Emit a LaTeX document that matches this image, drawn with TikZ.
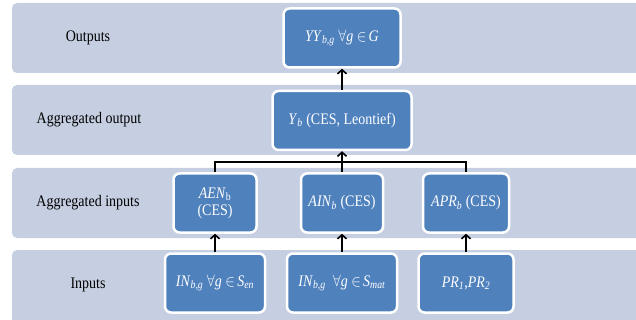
\documentclass[tikz,border=0pt]{standalone}
\usepackage{fontspec}
\setmainfont{Liberation Serif}
\usetikzlibrary{arrows.meta}
\definecolor{bandgray}{RGB}{197,207,225}
\definecolor{boxblue}{RGB}{79,129,189}
\newcommand{\lowidx}[1]{\textsubscript{#1}}
\newcommand{\tall}[1]{\scalebox{1}[1.15]{#1}}
\tikzset{
  band/.style={fill=bandgray, rounded corners=5pt},
  bluebox/.style={draw=white, line width=2.5pt, fill=boxblue, rounded corners=6pt,
    text=white, align=center, minimum height=59pt, inner sep=2pt,
    font=\fontsize{14}{17}\selectfont},
  bandlabel/.style={font=\fontsize{14}{16}\selectfont},
  link/.style={line width=1.6pt},
  up/.style={link, -{Straight Barb[length=4pt,width=9pt,line width=1.6pt]}}
}
\begin{document}
\begin{tikzpicture}[x=1pt,y=-1pt]
    \useasboundingbox (0,0) rectangle (636,320);
    % backdrop bands
    \fill[band] (12,3) rectangle (645,73);
    \fill[band] (12,85) rectangle (645,155);
    \fill[band] (12,168) rectangle (645,238);
    \fill[band] (12,250) rectangle (645,325);
    % band labels
    \node[bandlabel] (lout) at (88,38) {\tall{Outputs}};
    \node[bandlabel] (laggout) at (89,120) {\tall{Aggregated output}};
    \node[bandlabel] (lagginp) at (88,203) {\tall{Aggregated inputs}};
    \node[bandlabel] (linp) at (88,285) {\tall{Inputs}};
    % boxes
    \node[bluebox, minimum width=117pt] (yy) at (342,38)
      {\tall{\textit{YY}\lowidx{\textit{b,g}} $\forall$\textit{g} $\in$\,\textit{G}}};
    \node[bluebox, minimum width=139pt] (yb) at (342,120.5)
      {\tall{\textit{Y}\lowidx{\textit{b}} (CES, Leontief)}};
    \node[bluebox, minimum width=83pt] (aen) at (215,203)
      {\tall{\textit{AEN}\lowidx{b}}\\\tall{(CES)}};
    \node[bluebox, minimum width=82pt] (ain) at (342,203)
      {\tall{\textit{AIN}\lowidx{\textit{b}} (CES)}};
    \node[bluebox, minimum width=86pt] (apr) at (466,203)
      {\tall{\textit{APR}\lowidx{\textit{b}} (CES)}};
    \node[bluebox, minimum width=100pt] (inen) at (215,283)
      {\tall{\textit{IN}\lowidx{\textit{b,g}} $\forall$\textit{g} $\in$\,\textit{S}\lowidx{\textit{en}}}};
    \node[bluebox, minimum width=110pt] (inmat) at (342,283)
      {\tall{\textit{IN}\lowidx{\textit{b,g}} \ $\forall$\textit{g} $\in$\,\textit{S}\lowidx{\textit{mat}}}};
    \node[bluebox, minimum width=95pt] (pr) at (466,283)
      {\tall{\textit{PR}\lowidx{\textit{1}},\textit{PR}\lowidx{\textit{2}}}};
    % arrows
    \coordinate (join) at (342,162);
    \draw[up] (inen) -- (aen);
    \draw[up] (inmat) -- (ain);
    \draw[up] (pr) -- (apr);
    \draw[link] (aen.north) |- (join) -| (apr.north);
    \draw[link] (ain.north) -- (join);
    \draw[up] (join) -- (yb.south);
    \draw[up] (yb) -- (yy);
\end{tikzpicture}
\end{document}
